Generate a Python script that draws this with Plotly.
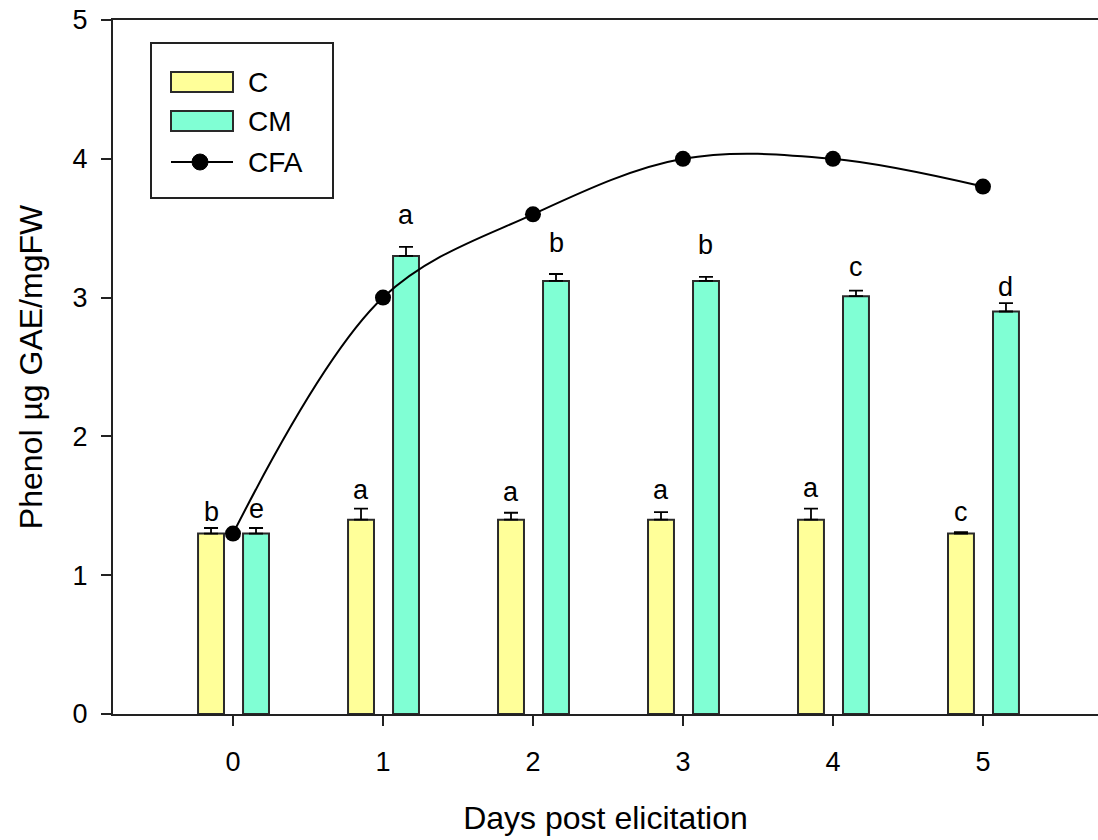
import plotly.graph_objects as go

days = [0, 1, 2, 3, 4, 5]
day_labels = ["0", "1", "2", "3", "4", "5"]

c_vals = [1.30, 1.40, 1.40, 1.40, 1.40, 1.30]
c_err = [0.04, 0.08, 0.05, 0.055, 0.08, 0.01]
c_letters = ["b", "a", "a", "a", "a", "c"]
c_letter_y = [1.455, 1.614, 1.599, 1.614, 1.628, 1.455]

cm_vals = [1.30, 3.30, 3.12, 3.12, 3.01, 2.90]
cm_err = [0.04, 0.065, 0.05, 0.03, 0.04, 0.06]
cm_letters = ["e", "a", "b", "b", "c", "d"]
cm_letter_y = [1.477, 3.595, 3.393, 3.379, 3.22, 3.076]

cfa_vals = [1.30, 3.00, 3.60, 4.00, 4.00, 3.80]

series_names = ["C", "CM", "CFA"]

YELLOW = "#FFFF99"
AQUA = "#80FFD4"
EDGE = "#2a2a2a"
FONT = "Liberation Sans, Arial, sans-serif"

W, H = 1098, 840
ML, MR, MT, MB = 113, 0, 20, 126
PW, PH = W - ML - MR, H - MT - MB

BAR_W = 0.173
C_OFF = -0.233
CM_OFF = 0.067


def px(x):
    return (x - ML) / PW


def py(y):
    return (H - MB - y) / PH


fig = go.Figure()

fig.add_trace(go.Bar(
    x=days, y=c_vals, name=series_names[0], width=BAR_W, offset=C_OFF,
    marker=dict(color=YELLOW, line=dict(color=EDGE, width=2)),
    error_y=dict(type="data", array=c_err, arrayminus=[0] * 6, symmetric=False,
                 color="black", thickness=1.8, width=7),
))
fig.add_trace(go.Bar(
    x=days, y=cm_vals, name=series_names[1], width=BAR_W, offset=CM_OFF,
    marker=dict(color=AQUA, line=dict(color=EDGE, width=2)),
    error_y=dict(type="data", array=cm_err, arrayminus=[0] * 6, symmetric=False,
                 color="black", thickness=1.8, width=7),
))
fig.add_trace(go.Scatter(
    x=days, y=cfa_vals, name=series_names[2], mode="lines+markers",
    line=dict(color="black", width=2, shape="spline", smoothing=1),
    marker=dict(color="black", size=16),
))

for d, t, yv in zip(days, c_letters, c_letter_y):
    fig.add_annotation(x=d + C_OFF + BAR_W / 2, y=yv, text=t, showarrow=False,
                       xref="x", yref="y", yanchor="middle",
                       font=dict(family=FONT, size=27, color="black"))
for d, t, yv in zip(days, cm_letters, cm_letter_y):
    fig.add_annotation(x=d + CM_OFF + BAR_W / 2, y=yv, text=t, showarrow=False,
                       xref="x", yref="y", yanchor="middle",
                       font=dict(family=FONT, size=27, color="black"))

# legend drawn as a box with wide swatches (as in the original figure)
fig.add_shape(type="rect", xref="paper", yref="paper",
              x0=px(151), x1=px(333), y0=py(198), y1=py(43),
              line=dict(color="#222", width=2), fillcolor="white", layer="above")
fig.add_shape(type="rect", xref="paper", yref="paper",
              x0=px(171), x1=px(233), y0=py(92), y1=py(72),
              line=dict(color=EDGE, width=2), fillcolor=YELLOW, layer="above")
fig.add_shape(type="rect", xref="paper", yref="paper",
              x0=px(171), x1=px(233), y0=py(131), y1=py(111),
              line=dict(color=EDGE, width=2), fillcolor=AQUA, layer="above")
fig.add_shape(type="line", xref="paper", yref="paper",
              x0=px(171), x1=px(233), y0=py(162), y1=py(162),
              line=dict(color="black", width=2), layer="above")
fig.add_shape(type="circle", xref="paper", yref="paper",
              x0=px(192), x1=px(208), y0=py(170), y1=py(154),
              line=dict(color="black", width=1), fillcolor="black", layer="above")
for name, yy in zip(series_names, [82, 121, 162]):
    fig.add_annotation(x=px(246), y=py(yy), xref="paper", yref="paper",
                       text=name, showarrow=False, xanchor="left", yanchor="middle",
                       font=dict(family=FONT, size=28, color="black"))

fig.update_layout(
    width=W, height=H,
    margin=dict(l=ML, r=MR, t=MT, b=MB),
    paper_bgcolor="white", plot_bgcolor="white",
    font=dict(family=FONT, color="black"),
    barmode="overlay",
    showlegend=False,
    xaxis=dict(
        range=[-0.8, 5.767], tickmode="array", tickvals=days, ticktext=day_labels,
        ticks="outside", ticklen=10, tickwidth=2, tickcolor="#222",
        showline=True, linecolor="#222", linewidth=2, mirror=True,
        showgrid=False, zeroline=False,
        tickfont=dict(family=FONT, size=27), ticklabelstandoff=13,
        title=dict(text="Days post elicitation", font=dict(family=FONT, size=32), standoff=30),
    ),
    yaxis=dict(
        range=[0, 5], tickmode="array", tickvals=[0, 1, 2, 3, 4, 5],
        ticks="outside", ticklen=10, tickwidth=2, tickcolor="#222",
        showline=True, linecolor="#222", linewidth=2, mirror=False,
        showgrid=False, zeroline=False,
        tickfont=dict(family=FONT, size=27), ticklabelstandoff=8,
        title=dict(text="Phenol µg GAE/mgFW", font=dict(family=FONT, size=32), standoff=20),
    ),
)

fig.write_html("out.html")
